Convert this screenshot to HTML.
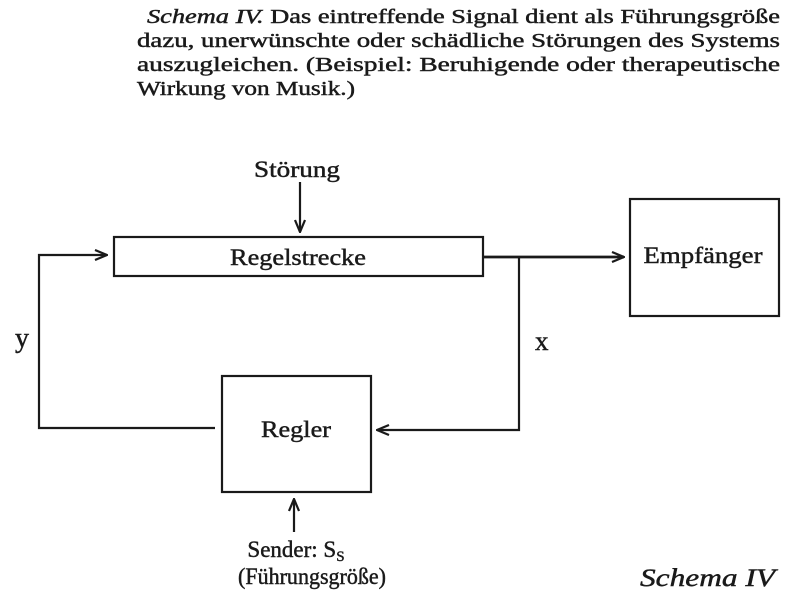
<!DOCTYPE html>
<html><head><meta charset="utf-8"><style>
html,body{margin:0;padding:0;background:#fff}
svg{display:block}
text{font-family:"Liberation Serif",serif;fill:#1a1a1a;stroke:#1a1a1a;stroke-width:0.45}
</style></head><body>
<svg width="789" height="600" viewBox="0 0 789 600" xmlns="http://www.w3.org/2000/svg">
<defs>
<marker id="a" markerWidth="14" markerHeight="12" refX="13" refY="6" orient="auto" markerUnits="userSpaceOnUse">
<path d="M1,1 L13,6 L1,11" fill="none" stroke="#1a1a1a" stroke-width="2.2"/>
</marker>
</defs>
<g font-size="20">
<text x="147" y="23" textLength="633" lengthAdjust="spacingAndGlyphs"><tspan font-style="italic">Schema IV.</tspan> Das eintreffende Signal dient als Führungsgröße</text>
<text x="137" y="47" textLength="643" lengthAdjust="spacingAndGlyphs">dazu, unerwünschte oder schädliche Störungen des Systems</text>
<text x="137" y="71" textLength="643" lengthAdjust="spacingAndGlyphs">auszugleichen. (Beispiel: Beruhigende oder therapeutische</text>
<text x="137" y="95" textLength="218" lengthAdjust="spacingAndGlyphs">Wirkung von Musik.)</text>
</g>
<g fill="none" stroke="#1a1a1a" stroke-width="2.2">
<rect x="114" y="237" width="369" height="39"/>
<rect x="630" y="199" width="149" height="117"/>
<rect x="222" y="376" width="149" height="116"/>
<line x1="300" y1="182" x2="300" y2="232" marker-end="url(#a)"/>
<line x1="483" y1="257" x2="624" y2="257" marker-end="url(#a)" stroke-width="2.8"/>
<polyline points="519,257 519,430 377,430" marker-end="url(#a)"/>
<polyline points="215,428 39,428 39,255 107,255" marker-end="url(#a)"/>
<line x1="294" y1="532" x2="294" y2="499" marker-end="url(#a)"/>
</g>
<g font-size="23" text-anchor="middle">
<text x="297" y="177" textLength="86" lengthAdjust="spacingAndGlyphs">Störung</text>
<text x="298" y="265" textLength="136" lengthAdjust="spacingAndGlyphs">Regelstrecke</text>
<text x="703" y="263" textLength="119" lengthAdjust="spacingAndGlyphs">Empfänger</text>
<text x="296" y="437" textLength="70" lengthAdjust="spacingAndGlyphs">Regler</text>
<text x="296" y="557">Sender: S<tspan font-size="15" dy="4">S</tspan></text>
<text x="312" y="584" textLength="148" lengthAdjust="spacingAndGlyphs">(Führungsgröße)</text>
</g>
<text x="15" y="347" font-size="28">y</text>
<text x="535" y="350" font-size="27">x</text>
<text x="640" y="586" font-size="25" font-style="italic" textLength="135" lengthAdjust="spacingAndGlyphs">Schema IV</text>
</svg>
</body></html>
